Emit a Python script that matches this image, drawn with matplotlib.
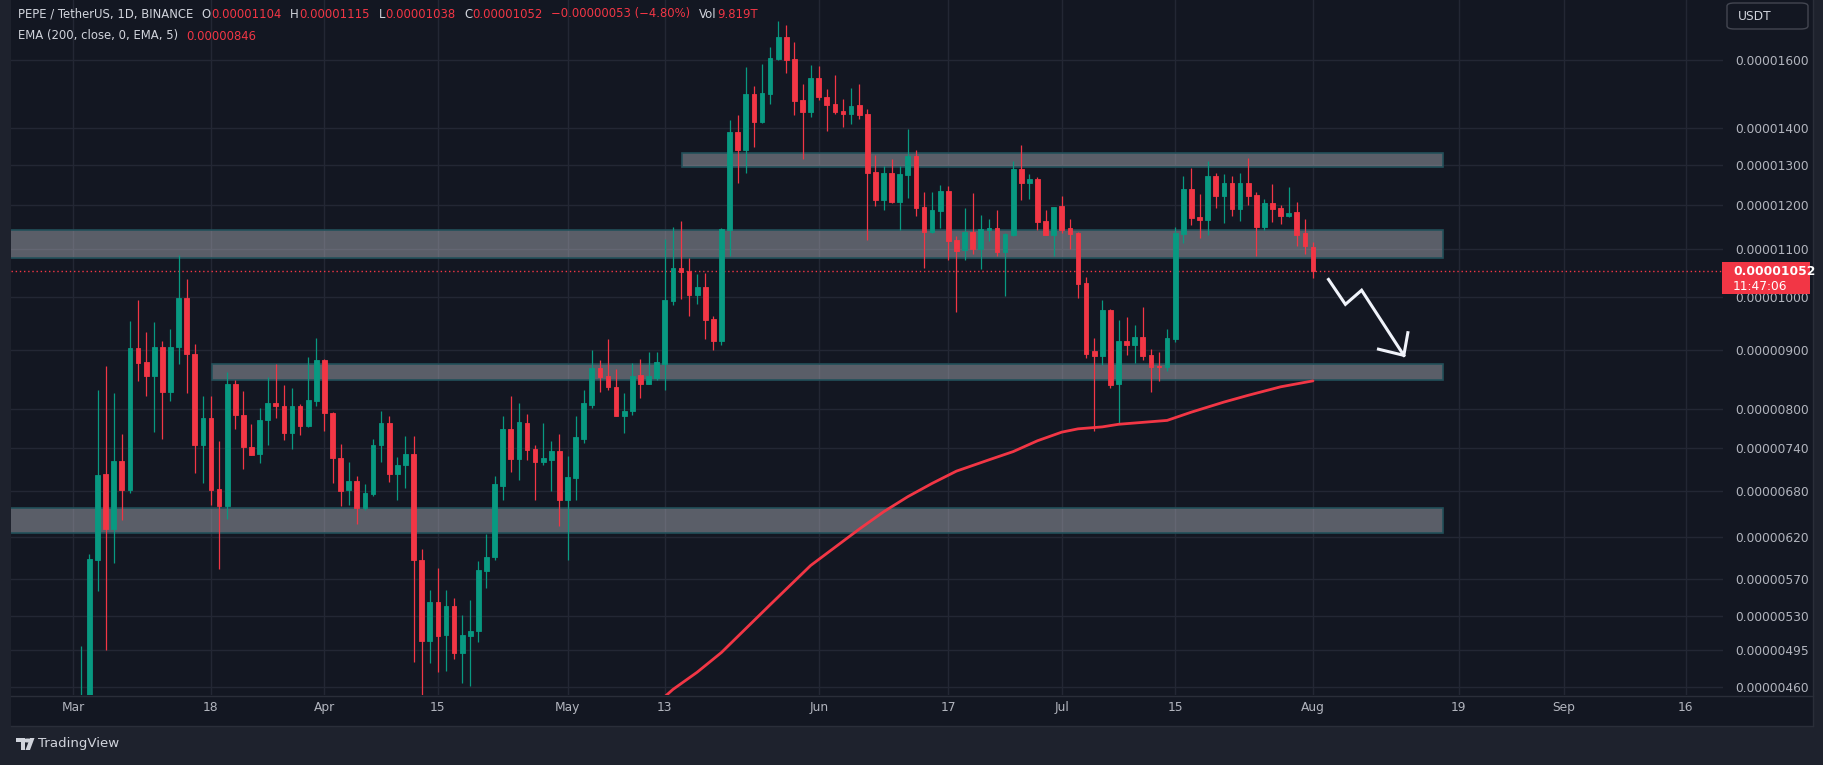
import numpy as np
import pandas as pd
import matplotlib
matplotlib.use('Agg')
import matplotlib.pyplot as plt
from matplotlib.patches import Rectangle, FancyBboxPatch, Polygon, Circle

W, H = 1823, 765
UNIT = 1e-8  # all prices below are in units of 0.00000001 USDT

# ---------------------------------------------------------------- daily candles, PEPE/USDT
dates = pd.date_range('2024-03-02', '2024-08-01', freq='D')
opens = [380, 440, 592, 703, 630, 721, 681, 903, 878, 855, 905, 828, 904, 997, 893,
         744, 786, 682, 660, 840, 791, 742, 731, 782, 810, 804, 763, 805, 774, 813,
         882, 793, 725, 681, 693, 657, 676, 745, 778, 703, 715, 732, 593, 504, 545,
         510, 541, 492, 509, 514, 580, 596, 687, 769, 724, 778, 739, 720, 723, 736,
         667, 698, 754, 807, 868, 855, 836, 789, 796, 856, 841, 851, 875, 992, 1059,
         1052, 1004, 1020, 957, 915, 1142, 1388, 1339, 1496, 1415, 1496, 1604, 1676, 1604, 1478,
         1444, 1545, 1487, 1467, 1447, 1438, 1464, 1438, 1281, 1212, 1279, 1207, 1274, 1323, 1195,
         1138, 1186, 1234, 1119, 1097, 1138, 1099, 1143, 1147, 1093, 1131, 1289, 1253, 1264, 1163,
         1131, 1198, 1147, 1135, 1028, 897, 889, 974, 841, 916, 909, 923, 891, 871, 870,
         919, 1133, 1239, 1172, 1165, 1272, 1222, 1253, 1191, 1253, 1224, 1149, 1205, 1193, 1174,
         1183, 1135, 1104]
highs = [499, 600, 831, 871, 825, 761, 953, 993, 932, 951, 916, 938, 1086, 1036, 910,
         821, 821, 751, 861, 847, 829, 776, 802, 853, 875, 839, 834, 808, 887, 921,
         884, 795, 746, 720, 700, 689, 754, 797, 789, 727, 758, 758, 606, 558, 583,
         558, 549, 531, 547, 591, 624, 700, 789, 821, 810, 792, 745, 778, 751, 761,
         729, 789, 831, 900, 882, 919, 867, 826, 877, 884, 896, 896, 1122, 1149, 1162,
         1081, 1047, 1049, 962, 1147, 1420, 1435, 1579, 1520, 1588, 1643, 1730, 1716, 1659, 1526,
         1585, 1582, 1511, 1554, 1482, 1515, 1526, 1452, 1325, 1297, 1315, 1297, 1395, 1339, 1231,
         1231, 1249, 1246, 1128, 1193, 1229, 1176, 1167, 1188, 1135, 1310, 1352, 1276, 1269, 1188,
         1195, 1222, 1167, 1137, 1040, 921, 994, 976, 955, 960, 945, 980, 901, 896, 938,
         1149, 1272, 1292, 1227, 1310, 1279, 1276, 1272, 1279, 1318, 1231, 1214, 1251, 1200, 1244,
         1207, 1167, 1115]
lows = [370, 430, 557, 495, 589, 641, 677, 845, 821, 764, 753, 813, 875, 825, 704,
        690, 661, 582, 643, 768, 710, 730, 719, 745, 785, 752, 739, 759, 772, 804,
        766, 691, 660, 661, 636, 655, 673, 720, 692, 668, 683, 484, 440, 483, 474,
        475, 487, 464, 461, 503, 560, 593, 667, 706, 695, 723, 668, 715, 680, 634,
        593, 668, 747, 802, 828, 831, 789, 763, 791, 818, 840, 848, 831, 984, 996,
        963, 986, 919, 900, 908, 1085, 1254, 1280, 1347, 1413, 1467, 1602, 1561, 1435, 1315,
        1430, 1479, 1390, 1438, 1401, 1410, 1424, 1119, 1198, 1188, 1205, 1142, 1216, 1175, 1059,
        1136, 1146, 1076, 970, 1076, 1089, 1057, 1117, 1084, 1001, 1129, 1212, 1214, 1142, 1131,
        1084, 1135, 1099, 997, 885, 765, 873, 834, 777, 891, 877, 882, 827, 846, 863,
        914, 1113, 1153, 1124, 1131, 1193, 1158, 1174, 1163, 1200, 1084, 1142, 1160, 1156, 1172,
        1106, 1089, 1038]
closes = [440, 594, 702, 630, 721, 681, 903, 877, 855, 905, 828, 905, 997, 893, 744,
          786, 681, 660, 841, 791, 742, 730, 783, 810, 804, 763, 805, 774, 814, 882,
          793, 725, 680, 693, 657, 677, 745, 778, 703, 716, 732, 592, 504, 545, 509,
          541, 492, 510, 514, 581, 596, 689, 769, 724, 780, 738, 720, 725, 736, 667,
          699, 756, 810, 868, 853, 835, 789, 797, 855, 841, 855, 878, 993, 1059, 1051,
          1004, 1020, 955, 916, 1144, 1388, 1339, 1496, 1415, 1499, 1607, 1676, 1600, 1476, 1444,
          1545, 1487, 1464, 1444, 1438, 1461, 1435, 1279, 1212, 1279, 1207, 1276, 1323, 1194, 1138,
          1188, 1234, 1117, 1095, 1138, 1099, 1144, 1146, 1093, 1133, 1289, 1253, 1264, 1160, 1131,
          1195, 1142, 1133, 1026, 892, 889, 974, 839, 916, 909, 923, 889, 870, 869, 921,
          1135, 1239, 1170, 1165, 1272, 1222, 1253, 1191, 1253, 1222, 1149, 1205, 1191, 1174, 1181,
          1131, 1106, 1052]

# EMA(200)
ema_dates = ['2024-05-12', '2024-05-14', '2024-05-17', '2024-05-20', '2024-05-26', '2024-05-31',
             '2024-06-06', '2024-06-09', '2024-06-12', '2024-06-15', '2024-06-18', '2024-06-22',
             '2024-06-25', '2024-06-28', '2024-07-01', '2024-07-03', '2024-07-06', '2024-07-08',
             '2024-07-14', '2024-07-17', '2024-07-21', '2024-07-24', '2024-07-28', '2024-08-01']
ema_values = [445, 458, 474, 493, 542, 586, 630, 652, 672, 690, 707, 723,
              735, 751, 764, 769, 772, 776, 782, 795, 811, 822, 836, 846]

# support / resistance zones
zone_lows = [1294, 1080, 847, 625]
zone_highs = [1330, 1143, 874, 657]
zone_starts = ['2024-05-15 04:00', '2024-02-01', '2024-03-18 02:00', '2024-02-01']
zone_end = '2024-08-17 02:00'

# hand drawn arrow
arrow_dates = ['2024-08-02 22:00', '2024-08-05', '2024-08-07', '2024-08-12 05:00']
arrow_prices = [1035, 985, 1013, 890]
arrow_head_dates = ['2024-08-09 02:00', '2024-08-12 05:00', '2024-08-12 17:00']
arrow_head_prices = [901, 890, 931]

price_ticks = [460, 495, 530, 570, 620, 680, 740, 800, 900, 1000, 1100, 1200, 1300, 1400, 1600]
time_ticks = ['2024-03-01', '2024-03-18', '2024-04-01', '2024-04-15', '2024-05-01', '2024-05-13',
              '2024-06-01', '2024-06-17', '2024-07-01', '2024-07-15', '2024-08-01', '2024-08-19',
              '2024-09-01', '2024-09-16']
time_labels = ['Mar', '18', 'Apr', '15', 'May', '13', 'Jun', '17', 'Jul', '15', 'Aug', '19', 'Sep', '16']

# ---------------------------------------------------------------- style
BG = '#131722'
FRAME = '#1e222d'
GRID = '#232734'
TXT = '#b2b5be'
GREEN = '#089981'
RED = '#f23645'
FS = 8.8

T0 = pd.Timestamp('2024-03-01')


def day(d):
    return (pd.to_datetime(d) - T0) / pd.Timedelta(days=1)


fig = plt.figure(figsize=(W / 100, H / 100), dpi=100, facecolor=FRAME)
fig.patches.append(Rectangle((11 / W, 1 - 726 / H), (1813 - 11) / W, 726 / H,
                             transform=fig.transFigure, facecolor=BG, edgecolor='none', zorder=-5))

ax = fig.add_axes([11 / W, 1 - 695 / H, (1723 - 11) / W, 695 / H])
ax.set_facecolor(BG)
for s in ax.spines.values():
    s.set_visible(False)
ax.set_yscale('log')
ax.set_xlim(-7.68, 203.6)
ax.set_ylim(453, 1804)

# grid
ax.set_yticks(price_ticks)
ax.set_yticklabels(['%.8f' % (v * UNIT) for v in price_ticks])
ax.yaxis.set_minor_locator(matplotlib.ticker.NullLocator())
ax.set_xticks([day(t) for t in time_ticks])
ax.set_xticklabels(time_labels)
ax.yaxis.tick_right()
ax.tick_params(axis='y', length=0, pad=9, labelsize=FS, labelcolor=TXT)
ax.tick_params(axis='x', length=0, pad=4.5, labelsize=FS, labelcolor=TXT)
ax.grid(True, color=GRID, lw=1)
ax.set_axisbelow(True)

# zones
for lo, hi, st in zip(zone_lows, zone_highs, zone_starts):
    x0 = day(st)
    ax.add_patch(Rectangle((x0, lo), day(zone_end) - x0, hi - lo, facecolor='#b2b5be', alpha=0.45,
                           edgecolor='none', zorder=1))
    ax.add_patch(Rectangle((x0, lo), day(zone_end) - x0, hi - lo, facecolor='none',
                           edgecolor='#22505a', lw=1.2, zorder=1.1))

# candles
x = day(dates).values
o = np.array(opens, float)
hi_ = np.array(highs, float)
lo_ = np.array(lows, float)
c = np.array(closes, float)
col = np.where(c >= o, GREEN, RED)
ax.vlines(x, lo_, hi_, colors=col, lw=0.9, zorder=3)
ax.bar(x, np.abs(c - o), bottom=np.minimum(o, c), width=0.58, color=col, edgecolor=col,
       linewidth=0.6, zorder=4)

# EMA
ax.plot([day(d) for d in ema_dates], ema_values, color=RED, lw=2.0, zorder=5,
        solid_capstyle='round', solid_joinstyle='round')

# last price line
ax.axhline(closes[-1], color=RED, lw=1, ls=(0, (1, 2)), zorder=2)

# arrow
ax.plot([day(d) for d in arrow_dates], arrow_prices, color='#f0f3fa', lw=2.2, zorder=6,
        solid_joinstyle='miter')
ax.plot([day(d) for d in arrow_head_dates], arrow_head_prices, color='#f0f3fa', lw=2.2, zorder=6,
        solid_joinstyle='miter')

# frame lines
fig.add_artist(plt.Line2D([11 / W, 1813 / W], [1 - 695.5 / H] * 2, color='#2a2e39', lw=1))
fig.add_artist(plt.Line2D([1813 / W] * 2, [1 - 726 / H, 1], color='#2a2e39', lw=1))
fig.add_artist(plt.Line2D([11 / W, 1813 / W], [1 - 726 / H] * 2, color='#2a2e39', lw=1))


def ftext(px, py, s, **kw):
    kw.setdefault('fontsize', FS)
    kw.setdefault('va', 'center')
    kw.setdefault('ha', 'left')
    return fig.text(px / W, 1 - py / H, s, **kw)


# header, laid out piece by piece
LT = '#d1d4dc'
HFS = 8.4
rend = fig.canvas.get_renderer()


def text_row(px, py, pieces):
    for s, cc, gap in pieces:
        px += gap
        t = ftext(px, py, s, color=cc, fontsize=HFS)
        px += t.get_window_extent(renderer=rend).width


G = 8.5
text_row(18, 14, [('PEPE / TetherUS, 1D, BINANCE', LT, 0),
                  ('O', LT, G), ('%.8f' % (opens[-1] * UNIT), RED, 0.5),
                  ('H', LT, G), ('%.8f' % (highs[-1] * UNIT), RED, 0.5),
                  ('L', LT, G), ('%.8f' % (lows[-1] * UNIT), RED, 0.5),
                  ('C', LT, G), ('%.8f' % (closes[-1] * UNIT), RED, 0.5),
                  ('\u22120.00000053 (\u22124.80%)', RED, G),
                  ('Vol', LT, G), ('9.819T', RED, 0.5)])
text_row(18, 36, [('EMA (200, close, 0, EMA, 5)', LT, 0),
                  ('%.8f' % (ema_values[-1] * UNIT), RED, G)])

# currency box
fig.patches.append(FancyBboxPatch((1727 / W, 1 - 29 / H), 81 / W, 26 / H, transform=fig.transFigure,
                                  boxstyle='round,pad=0,rounding_size=0.004', facecolor=BG,
                                  edgecolor='#434651', lw=1, zorder=3))
ftext(1738, 16, 'USDT', color=LT, zorder=4)

# last price label
fig.patches.append(Rectangle((1722 / W, 1 - 294 / H), 88 / W, 32 / H, transform=fig.transFigure,
                             facecolor=RED, edgecolor='none', zorder=3))
ftext(1733, 271, '%.8f' % (closes[-1] * UNIT), color='white', zorder=4, fontweight='bold')
ftext(1733, 286, '11:47:06', color='white', zorder=4)

# TradingView footer
logo_col = '#d1d4dc'


def P(px, py):
    return (px / W, 1 - py / H)


fig.patches.append(Polygon([P(16, 738), P(25, 738), P(25, 750), P(21, 750), P(21, 742), P(16, 742)],
                           closed=True, transform=fig.transFigure, facecolor=logo_col, edgecolor='none'))
fig.patches.append(Circle(P(27.5, 740.5), 2.0 / H, transform=fig.transFigure, facecolor=logo_col,
                          edgecolor='none'))
fig.patches.append(Polygon([P(30, 738), P(34.5, 738), P(30, 750), P(25.5, 750)], closed=True,
                           transform=fig.transFigure, facecolor=logo_col, edgecolor='none'))
ftext(38, 744, 'TradingView', color=logo_col, fontsize=9.6)

fig.savefig('out.png', dpi=100, facecolor=FRAME)
